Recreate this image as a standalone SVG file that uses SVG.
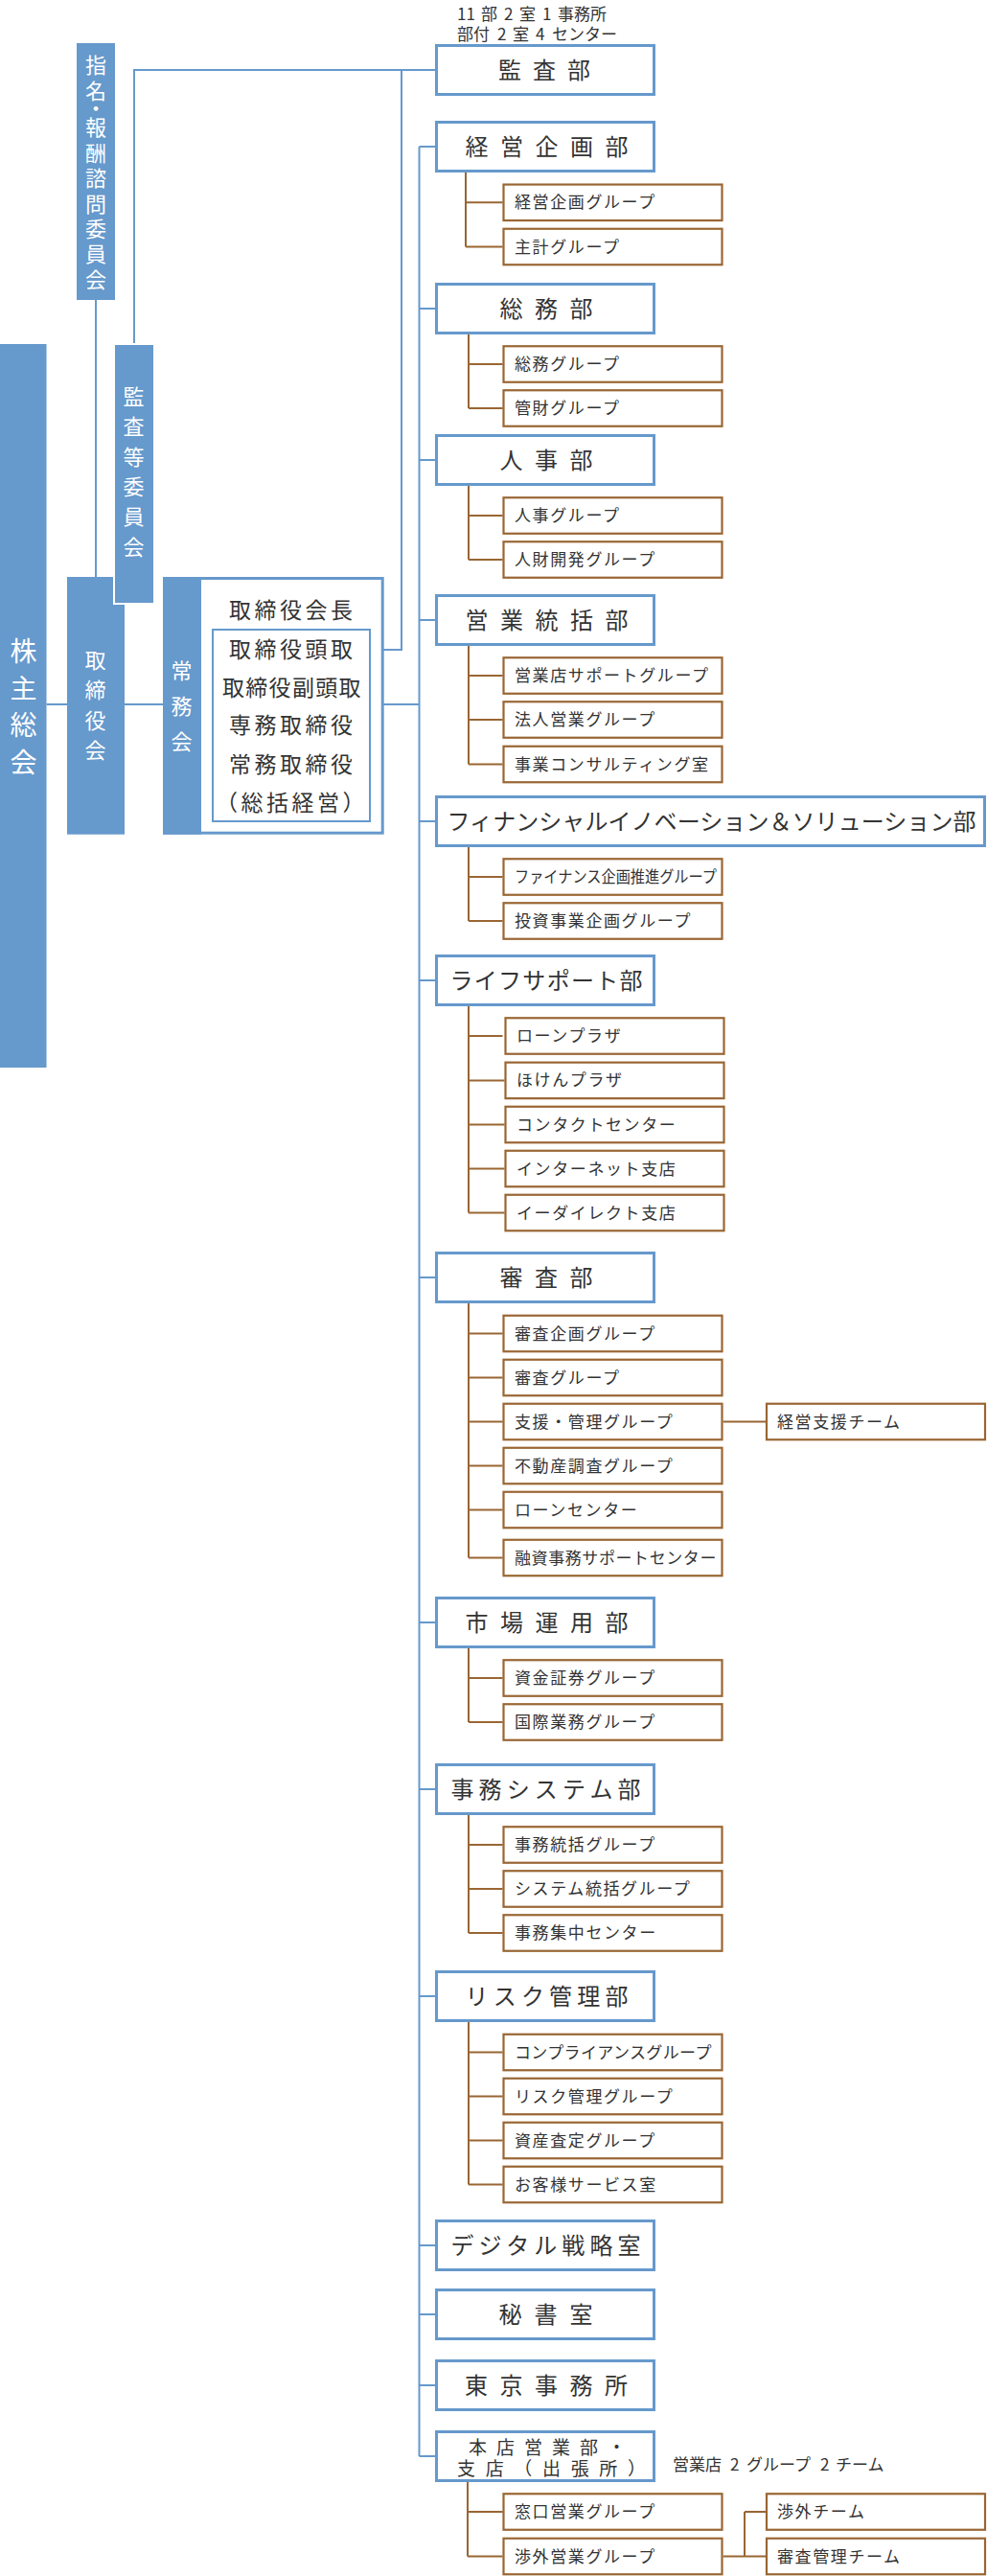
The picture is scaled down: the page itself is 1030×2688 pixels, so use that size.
<svg xmlns="http://www.w3.org/2000/svg" width="1030" height="2688" viewBox="0 0 1030 2688">
<style>
text{font-family:"Noto Sans CJK JP","Noto Sans",sans-serif;fill:#333}
.bar{fill:#6699cc}
.d{fill:#fff;stroke:#6699cc;stroke-width:3}
.g{fill:#fff;stroke:#996633;stroke-width:2.2}
.bl{fill:none;stroke:#6699cc;stroke-width:2}
.br{fill:none;stroke:#996633;stroke-width:2}
.dt{font-size:24px}
.gt{font-size:17px;letter-spacing:1.6px}
.vt{fill:#fff;font-size:22px}
.bt{font-size:23px}
.nt{font-size:17px}
</style>
<g id="connectors">
<path class="bl" d="M48.5 735H70M130 735H170M400 735H437.5M100 313V602M140 360V73H454M372 678H419V73M437.5 153V2563"/>
<path class="bl" d="M437.5 153H454M437.5 322H454M437.5 480H454M437.5 647H454M437.5 857H454M437.5 1023H454M437.5 1333H454M437.5 1693H454M437.5 1867H454M437.5 2083H454M437.5 2343H454M437.5 2415H454M437.5 2489H454M437.5 2563H454"/>
<path class="br" d="M486 180V257.5M486 211.3H524.5M486 257.5H524.5"/>
<path class="br" d="M489 349V426M489 380H524.5M489 426H524.5"/>
<path class="br" d="M489 507V584M489 538H524.5M489 584H524.5"/>
<path class="br" d="M489 674V797.5M489 705H524.5M489 751H524.5M489 797.5H524.5"/>
<path class="br" d="M489 884V961M489 915H524.5M489 961H524.5"/>
<path class="br" d="M489 1050V1265.5M489 1081H524.5M489 1127.4H526.5M489 1173.5H526.5M489 1219.5H526.5M489 1265.5H526.5"/>
<path class="br" d="M489 1360V1625.5M489 1391.5H524.5M489 1437.5H524.5M489 1483.5H524.5M489 1529.5H524.5M489 1575.5H524.5M489 1625.5H524.5M754.6 1483.5H799"/>
<path class="br" d="M489 1720V1797M489 1751H524.5M489 1797H524.5"/>
<path class="br" d="M489 1894V2017M489 1925H524.5M489 1971H524.5M489 2017H524.5"/>
<path class="br" d="M489 2110V2279.5M489 2141.5H524.5M489 2187.5H524.5M489 2233.5H524.5M489 2279.5H524.5"/>
<path class="br" d="M488 2590V2667.5M488 2621H524.5M488 2667.5H524.5M754.6 2667.5H777M777 2621V2667.5M777 2621H799M777 2667.5H799"/>
</g>
<g id="note-top">
<text class="nt" y="20.5"><tspan x="477">11</tspan><tspan x="502">部</tspan><tspan x="526">2</tspan><tspan x="542">室</tspan><tspan x="566">1</tspan><tspan x="582">事務所</tspan></text>
<text class="nt" y="42"><tspan x="477">部付</tspan><tspan x="519">2</tspan><tspan x="535">室</tspan><tspan x="559">4</tspan><tspan x="576">センター</tspan></text>
</g>
<g id="kabunushi">
<rect class="bar" x="0" y="359" width="48.5" height="755"/>
<text class="vt" style="font-size:28px" writing-mode="tb" x="24.5" y="665.5">株<tspan y="704">主</tspan><tspan y="742.6">総</tspan><tspan y="781.3">会</tspan></text>
</g>
<g id="shimei">
<rect class="bar" x="80" y="45" width="40" height="268"/>
<text class="vt" writing-mode="tb" x="100" y="57">指<tspan y="84">名</tspan><tspan y="102">・</tspan><tspan y="122">報</tspan><tspan y="149">酬</tspan><tspan y="175">諮</tspan><tspan y="202">問</tspan><tspan y="228">委</tspan><tspan y="254">員</tspan><tspan y="281">会</tspan></text>
</g>
<g id="torishimariyakukai">
<rect class="bar" x="70" y="602" width="60" height="268.7"/>
<text class="vt" writing-mode="tb" x="99.5" y="677.7">取<tspan y="709">締</tspan><tspan y="741">役</tspan><tspan y="772">会</tspan></text>
</g>
<g id="kansatou">
<rect x="118" y="358" width="44" height="273" fill="#fff"/>
<rect class="bar" x="120" y="360" width="40" height="269"/>
<text class="vt" writing-mode="tb" x="139.5" y="403">監<tspan y="434">査</tspan><tspan y="466">等</tspan><tspan y="497">委</tspan><tspan y="528">員</tspan><tspan y="560">会</tspan></text>
</g>
<g id="joumukai">
<rect x="171.5" y="603.5" width="227.7" height="265.7" fill="#fff" stroke="#6699cc" stroke-width="3"/>
<rect class="bar" x="170" y="602" width="40" height="268.7"/>
<text class="vt" writing-mode="tb" x="189.5" y="689">常<tspan y="726">務</tspan><tspan y="763">会</tspan></text>
<rect x="222" y="657" width="164" height="200" fill="none" stroke="#6699cc" stroke-width="2"/>
<text class="bt" x="239" y="645" textLength="129" lengthAdjust="spacing">取締役会長</text>
<text class="bt" x="239" y="686" textLength="129" lengthAdjust="spacing">取締役頭取</text>
<text class="bt" x="232" y="726" textLength="144.5" lengthAdjust="spacing">取締役副頭取</text>
<text class="bt" x="239" y="765" textLength="129" lengthAdjust="spacing">専務取締役</text>
<text class="bt" x="239" y="806" textLength="129" lengthAdjust="spacing">常務取締役</text>
<text class="bt" x="225" y="846" textLength="155.5" lengthAdjust="spacing">（総括経営）</text>
</g>
<g id="dept-kansa"><rect class="d" x="455.5" y="47.5" width="227" height="51"/><text class="dt" x="520" y="82" textLength="96" lengthAdjust="spacing">監査部</text></g>
<g id="dept-keiei"><rect class="d" x="455.5" y="127.5" width="227" height="51"/><text class="dt" x="485.5" y="162" textLength="170" lengthAdjust="spacing">経営企画部</text></g>
<g id="grp-keieikikaku"><rect class="g" x="525.5" y="192.55" width="228" height="37.5"/><text class="gt" x="537" y="217.3">経営企画グループ</text></g>
<g id="grp-shukei"><rect class="g" x="525.5" y="238.75" width="228" height="37.5"/><text class="gt" x="537" y="263.5">主計グループ</text></g>
<g id="dept-soumu"><rect class="d" x="455.5" y="296.5" width="227" height="51"/><text class="dt" x="521.5" y="331" textLength="97" lengthAdjust="spacing">総務部</text></g>
<g id="grp-soumu"><rect class="g" x="525.5" y="361.25" width="228" height="37.5"/><text class="gt" x="537" y="386">総務グループ</text></g>
<g id="grp-kanzai"><rect class="g" x="525.5" y="407.25" width="228" height="37.5"/><text class="gt" x="537" y="432">管財グループ</text></g>
<g id="dept-jinji"><rect class="d" x="455.5" y="454.5" width="227" height="51"/><text class="dt" x="521.5" y="489" textLength="97" lengthAdjust="spacing">人事部</text></g>
<g id="grp-jinji"><rect class="g" x="525.5" y="519.25" width="228" height="37.5"/><text class="gt" x="537" y="544">人事グループ</text></g>
<g id="grp-jinzai"><rect class="g" x="525.5" y="565.25" width="228" height="37.5"/><text class="gt" x="537" y="590">人財開発グループ</text></g>
<g id="dept-eigyou"><rect class="d" x="455.5" y="621.5" width="227" height="51"/><text class="dt" x="485.5" y="656" textLength="170" lengthAdjust="spacing">営業統括部</text></g>
<g id="grp-eigyouten"><rect class="g" x="525.5" y="686.25" width="228" height="37.5"/><text class="gt" x="537" y="711">営業店サポートグループ</text></g>
<g id="grp-houjin"><rect class="g" x="525.5" y="732.25" width="228" height="37.5"/><text class="gt" x="537" y="757">法人営業グループ</text></g>
<g id="grp-consul"><rect class="g" x="525.5" y="778.75" width="228" height="37.5"/><text class="gt" x="537" y="803.5">事業コンサルティング室</text></g>
<g id="dept-fin"><rect class="d" x="455.5" y="831.5" width="572" height="51"/><text class="dt" x="466.5" y="866" textLength="552" lengthAdjust="spacing">フィナンシャルイノベーション＆ソリューション部</text></g>
<g id="grp-finance"><rect class="g" x="525.5" y="896.25" width="228" height="37.5"/><text class="gt" style="letter-spacing:0" x="537" y="921" textLength="211" lengthAdjust="spacingAndGlyphs">ファイナンス企画推進グループ</text></g>
<g id="grp-toushi"><rect class="g" x="525.5" y="942.25" width="228" height="37.5"/><text class="gt" x="537" y="967">投資事業企画グループ</text></g>
<g id="dept-life"><rect class="d" x="455.5" y="997.5" width="227" height="51"/><text class="dt" x="469.5" y="1032" textLength="201" lengthAdjust="spacing">ライフサポート部</text></g>
<g id="grp-loanplaza"><rect class="g" x="527.5" y="1062.25" width="228" height="37.5"/><text class="gt" x="539" y="1087">ローンプラザ</text></g>
<g id="grp-hoken"><rect class="g" x="527.5" y="1108.65" width="228" height="37.5"/><text class="gt" x="539" y="1133.4">ほけんプラザ</text></g>
<g id="grp-contact"><rect class="g" x="527.5" y="1154.75" width="228" height="37.5"/><text class="gt" x="539" y="1179.5">コンタクトセンター</text></g>
<g id="grp-internet"><rect class="g" x="527.5" y="1200.75" width="228" height="37.5"/><text class="gt" x="539" y="1225.5">インターネット支店</text></g>
<g id="grp-edirect"><rect class="g" x="527.5" y="1246.75" width="228" height="37.5"/><text class="gt" x="539" y="1271.5">イーダイレクト支店</text></g>
<g id="dept-shinsa"><rect class="d" x="455.5" y="1307.5" width="227" height="51"/><text class="dt" x="521.5" y="1342" textLength="97" lengthAdjust="spacing">審査部</text></g>
<g id="grp-shinsakikaku"><rect class="g" x="525.5" y="1372.75" width="228" height="37.5"/><text class="gt" x="537" y="1397.5">審査企画グループ</text></g>
<g id="grp-shinsa"><rect class="g" x="525.5" y="1418.75" width="228" height="37.5"/><text class="gt" x="537" y="1443.5">審査グループ</text></g>
<g id="grp-shien"><rect class="g" x="525.5" y="1464.75" width="228" height="37.5"/><text class="gt" x="537" y="1489.5">支援・管理グループ</text></g>
<g id="team-keieishien"><rect class="g" x="800" y="1464.75" width="228" height="37.5"/><text class="gt" x="811" y="1489.5">経営支援チーム</text></g>
<g id="grp-fudousan"><rect class="g" x="525.5" y="1510.75" width="228" height="37.5"/><text class="gt" x="537" y="1535.5">不動産調査グループ</text></g>
<g id="grp-loancenter"><rect class="g" x="525.5" y="1556.75" width="228" height="37.5"/><text class="gt" x="537" y="1581.5">ローンセンター</text></g>
<g id="grp-yuushi"><rect class="g" x="525.5" y="1606.75" width="228" height="37.5"/><text class="gt" x="537" y="1631.5" textLength="212" lengthAdjust="spacing">融資事務サポートセンター</text></g>
<g id="dept-shijou"><rect class="d" x="455.5" y="1667.5" width="227" height="51"/><text class="dt" x="485.5" y="1702" textLength="170" lengthAdjust="spacing">市場運用部</text></g>
<g id="grp-shikin"><rect class="g" x="525.5" y="1732.25" width="228" height="37.5"/><text class="gt" x="537" y="1757">資金証券グループ</text></g>
<g id="grp-kokusai"><rect class="g" x="525.5" y="1778.25" width="228" height="37.5"/><text class="gt" x="537" y="1803">国際業務グループ</text></g>
<g id="dept-jimu"><rect class="d" x="455.5" y="1841.5" width="227" height="51"/><text class="dt" x="470.5" y="1876" textLength="198" lengthAdjust="spacing">事務システム部</text></g>
<g id="grp-jimutoukatsu"><rect class="g" x="525.5" y="1906.25" width="228" height="37.5"/><text class="gt" x="537" y="1931">事務統括グループ</text></g>
<g id="grp-system"><rect class="g" x="525.5" y="1952.25" width="228" height="37.5"/><text class="gt" x="537" y="1977">システム統括グループ</text></g>
<g id="grp-shuchu"><rect class="g" x="525.5" y="1998.25" width="228" height="37.5"/><text class="gt" x="537" y="2023">事務集中センター</text></g>
<g id="dept-risk"><rect class="d" x="455.5" y="2057.5" width="227" height="51"/><text class="dt" x="485.5" y="2092" textLength="170" lengthAdjust="spacing">リスク管理部</text></g>
<g id="grp-compliance"><rect class="g" x="525.5" y="2122.75" width="228" height="37.5"/><text class="gt" x="537" y="2147.5" textLength="207" lengthAdjust="spacing">コンプライアンスグループ</text></g>
<g id="grp-risk"><rect class="g" x="525.5" y="2168.75" width="228" height="37.5"/><text class="gt" x="537" y="2193.5">リスク管理グループ</text></g>
<g id="grp-shisan"><rect class="g" x="525.5" y="2214.75" width="228" height="37.5"/><text class="gt" x="537" y="2239.5">資産査定グループ</text></g>
<g id="grp-okyaku"><rect class="g" x="525.5" y="2260.75" width="228" height="37.5"/><text class="gt" x="537" y="2285.5">お客様サービス室</text></g>
<g id="dept-digital"><rect class="d" x="455.5" y="2317.5" width="227" height="51"/><text class="dt" x="470.5" y="2352" textLength="198" lengthAdjust="spacing">デジタル戦略室</text></g>
<g id="dept-hisho"><rect class="d" x="455.5" y="2389.5" width="227" height="51"/><text class="dt" x="520.5" y="2424" textLength="98" lengthAdjust="spacing">秘書室</text></g>
<g id="dept-tokyo"><rect class="d" x="455.5" y="2463.5" width="227" height="51"/><text class="dt" x="485" y="2498" textLength="170" lengthAdjust="spacing">東京事務所</text></g>
<g id="dept-honten"><rect class="d" x="455.5" y="2537.5" width="227" height="51"/>
<text style="font-size:19px" x="489" y="2561" textLength="164" lengthAdjust="spacing">本店営業部・</text>
<text style="font-size:19px" x="477" y="2583" textLength="197" lengthAdjust="spacing">支店（出張所）</text></g>
<text style="font-size:17px" y="2578"><tspan x="702">営業店</tspan><tspan x="762">2</tspan><tspan x="779">グループ</tspan><tspan x="856">2</tspan><tspan x="872">チーム</tspan></text>
<g id="grp-madoguchi"><rect class="g" x="525.5" y="2602.25" width="228" height="37.5"/><text class="gt" x="537" y="2627">窓口営業グループ</text></g>
<g id="grp-shougai"><rect class="g" x="525.5" y="2648.75" width="228" height="37.5"/><text class="gt" x="537" y="2673.5">渉外営業グループ</text></g>
<g id="team-shougai"><rect class="g" x="800" y="2602.25" width="228" height="37.5"/><text class="gt" x="811" y="2627">渉外チーム</text></g>
<g id="team-shinsakanri"><rect class="g" x="800" y="2648.75" width="228" height="37.5"/><text class="gt" x="811" y="2673.5">審査管理チーム</text></g>
</svg>
